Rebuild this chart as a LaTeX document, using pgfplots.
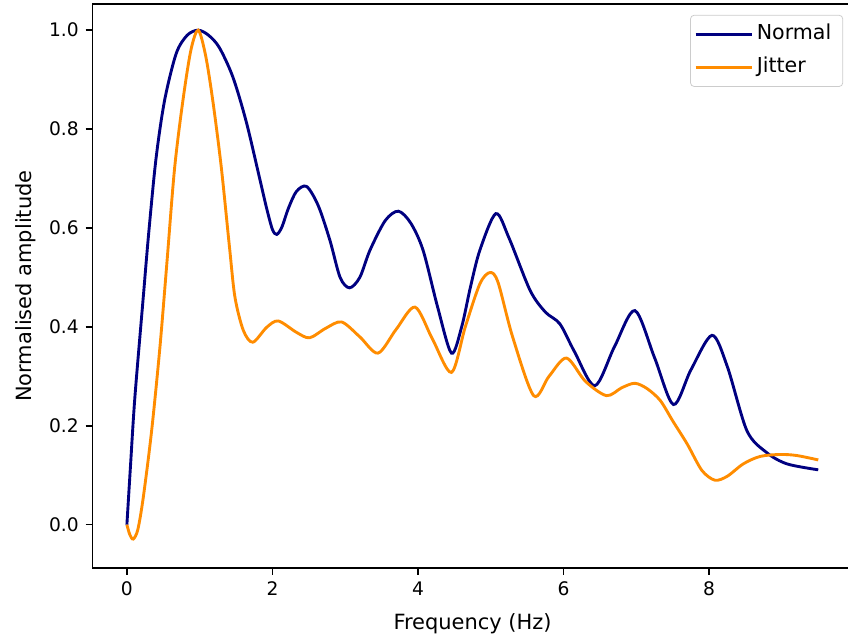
\documentclass[border=0pt]{standalone}
\usepackage{pgfplots}
\pgfplotsset{compat=1.18}
\usepackage{fontspec}
\setmainfont{DejaVu Sans}
\definecolor{mpnavy}{RGB}{0,0,128}
\definecolor{mporange}{RGB}{255,140,0}
\begin{document}
\begin{tikzpicture}
\begin{axis}[
  scale only axis,
  width=395.4pt, height=293.1pt,
  xmin=-0.475, xmax=9.975,
  ymin=-0.0875, ymax=1.0525,
  xtick={0,2,4,6,8},
  ytick={0,0.2,0.4,0.6,0.8,1.0},
  yticklabel style={/pgf/number format/.cd,fixed,fixed zerofill,precision=1},
  /pgf/number format/assume math mode=true,
  tick align=outside,
  tick pos=left,
  major tick length=3.5pt,
  axis line style={line width=0.8pt},
  every tick/.style={black,line width=0.8pt},
  tick label style={font=\fontsize{9.7}{11}\selectfont},
  label style={font=\fontsize{10.9}{13}\selectfont},
  xlabel style={yshift=-2.5pt},
  xlabel={Frequency (Hz)},
  ylabel={Normalised amplitude},
  legend style={at={(1,1)},anchor=north east,xshift=-5pt,yshift=-5.5pt,
    draw=black!20,rounded corners=2pt,font=\fontsize{10.7}{13}\selectfont,
    inner xsep=2pt,inner ysep=3.3pt,row sep=3.5pt,
    nodes={inner sep=1.5pt,text height=8pt,text depth=2.5pt}},
  legend cell align=left,
  legend image code/.code={\draw[#1] (0pt,0pt) -- (23pt,0pt); \path (23pt,0pt) -- (29.5pt,0pt);},
  clip=true,
]
\addplot[mpnavy, line width=1.5pt, smooth, tension=0.5] coordinates {
(0,0) (0.05,0.12) (0.11,0.258) (0.225,0.46) (0.30,0.59) (0.40,0.74)
(0.518,0.858) (0.678,0.953) (0.83,0.99) (0.98,1.0) (1.12,0.99) (1.27,0.965)
(1.457,0.905) (1.64,0.815) (1.82,0.703) (1.92,0.64) (2.0,0.597) (2.06,0.587)
(2.13,0.602) (2.22,0.64) (2.33,0.674) (2.47,0.684) (2.63,0.645) (2.79,0.575)
(2.93,0.50) (3.06,0.479) (3.2,0.50) (3.34,0.555) (3.55,0.615) (3.73,0.634)
(3.9,0.61) (4.07,0.555) (4.27,0.44) (4.46,0.347) (4.6,0.40) (4.72,0.48)
(4.85,0.555) (5.07,0.629) (5.25,0.58) (5.54,0.474) (5.75,0.43) (5.95,0.406)
(6.15,0.35) (6.43,0.281) (6.7,0.36) (6.98,0.433) (7.25,0.338) (7.51,0.243)
(7.75,0.313) (8.04,0.383) (8.25,0.32) (8.52,0.19) (8.79,0.146) (9.07,0.123)
(9.5,0.111)
};
\addlegendentry{Normal\hspace*{2.5pt}}
\addplot[mporange, line width=1.5pt, smooth, tension=0.5] coordinates {
(0,0) (0.04,-0.02) (0.087,-0.029) (0.15,-0.01) (0.225,0.055) (0.34,0.19)
(0.454,0.359) (0.55,0.53) (0.655,0.72) (0.77,0.858) (0.88,0.96) (0.98,1.0)
(1.08,0.95) (1.18,0.858) (1.297,0.723) (1.41,0.561) (1.485,0.46) (1.60,0.393)
(1.73,0.369) (1.92,0.399) (2.08,0.412) (2.33,0.389) (2.51,0.378) (2.73,0.397)
(2.95,0.41) (3.2,0.38) (3.45,0.347) (3.7,0.395) (3.96,0.44) (4.2,0.375)
(4.46,0.308) (4.65,0.40) (4.85,0.487) (4.99,0.51) (5.1,0.49) (5.3,0.38)
(5.59,0.261) (5.8,0.30) (6.04,0.337) (6.3,0.29) (6.59,0.261) (6.8,0.277)
(6.98,0.286) (7.15,0.275) (7.33,0.251) (7.5,0.21) (7.70,0.163) (7.9,0.11)
(8.08,0.090) (8.25,0.098) (8.47,0.123) (8.7,0.138) (8.97,0.142) (9.2,0.14)
(9.5,0.131)
};
\addlegendentry{Jitter}
\coordinate (SW) at (rel axis cs:0,0);
\coordinate (NW) at (rel axis cs:0,1);
\end{axis}
\pgfresetboundingbox
\useasboundingbox ([xshift=-48.0pt,yshift=-37.4pt]SW) rectangle ([xshift=392.9pt,yshift=2.2pt]NW);
\end{tikzpicture}
\end{document}
